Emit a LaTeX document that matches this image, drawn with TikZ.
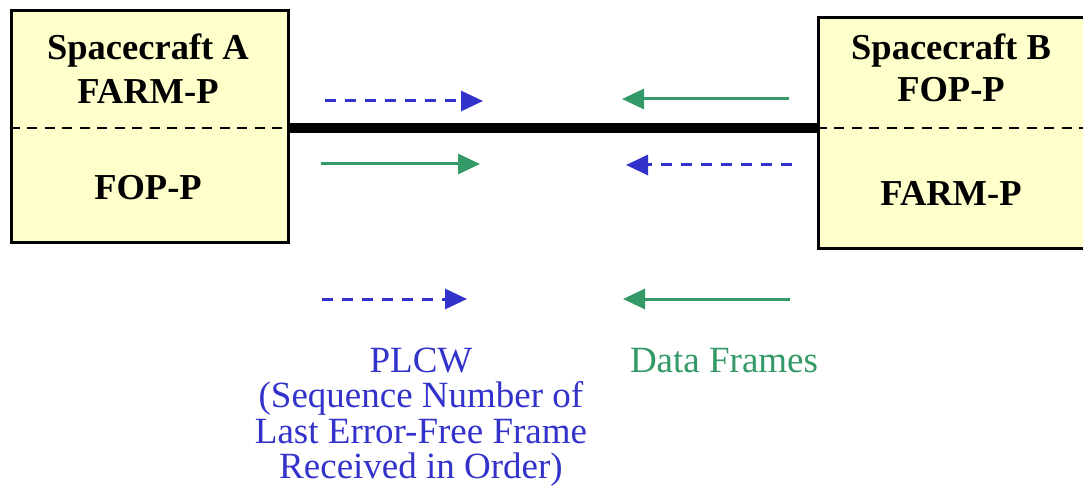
\documentclass[tikz,border=0pt]{standalone}
\usepackage{fontspec}
\setmainfont{Liberation Serif}
\usetikzlibrary{arrows.meta}
\definecolor{plcwblue}{RGB}{51,51,204}
\definecolor{framegreen}{RGB}{51,153,102}
\definecolor{boxyellow}{RGB}{255,255,204}

\begin{document}
\begin{tikzpicture}[x=1pt,y=-1pt,
  craft/.style={draw,line width=3pt,fill=boxyellow,inner sep=0pt,anchor=north west},
  layer/.style={font=\fontsize{36.5}{35}\selectfont\bfseries,anchor=base,inner sep=0pt},
  divider/.style={line width=2.5pt,dash pattern=on 10pt off 7.5pt},
  link/.style={line width=10pt},
  plcw/.style={plcwblue,line width=3pt,dash pattern=on 11pt off 9pt,-{Triangle[length=22pt,width=20pt]}},
  frame/.style={framegreen,line width=3pt,-{Triangle[length=22pt,width=20pt]}},
  caption/.style={font=\fontsize{37}{35.5}\selectfont,anchor=base,align=center,inner sep=0pt}]

\useasboundingbox (0,0) rectangle (1083,489);

% the two spacecraft
\node[craft,minimum width=277pt,minimum height=231pt](sa) at (9.5,9.5) {};
\node[craft,minimum width=272pt,minimum height=230pt](sb) at (816.5,16.5) {};

\coordinate (sal) at (sa.west |- 0,128);
\coordinate (sar) at (sa.east |- 0,128);
\coordinate (sbl) at (sb.west |- 0,128);
\coordinate (sbr) at (sb.east |- 0,128);

\draw[divider] (sal) -- (sar);
\draw[divider] (sbl) -- (sbr);
\draw[link] (sar) -- (sbl);

\node[layer](saname) at (148,60) {Spacecraft A};
\node[layer](saup) at (148,104) {FARM-P};
\node[layer](salow) at (148,200) {FOP-P};

\node[layer](sbname) at (951,60) {Spacecraft B};
\node[layer](sbup) at (951,102) {FOP-P};
\node[layer](sblow) at (951,205) {FARM-P};

% arrows
\coordinate (p1s) at (325,101);  \coordinate (p1e) at (483,101);
\coordinate (p2s) at (792,165);  \coordinate (p2e) at (626,165);
\coordinate (p3s) at (322,299);  \coordinate (p3e) at (467,299);
\coordinate (d1s) at (789,99);   \coordinate (d1e) at (622,99);
\coordinate (d2s) at (321,164);  \coordinate (d2e) at (480,164);
\coordinate (d3s) at (790,299);  \coordinate (d3e) at (623,299);

\foreach \from/\to in { p1s/p1e, p2s/p2e, p3s/p3e}
    \draw[plcw] (\from) -- (\to);

\foreach \from/\to in { d1s/d1e, d2s/d2e, d3s/d3e}
    \draw[frame] (\from) -- (\to);

% captions (base is the last line here)
\node[caption,text=plcwblue](plcwlbl) at (421,478.5) {PLCW\\(Sequence Number of\\Last Error-Free Frame\\Received in Order)};
\node[caption,text=framegreen](framelbl) at (724,372) {Data Frames};

\end{tikzpicture}
\end{document}
